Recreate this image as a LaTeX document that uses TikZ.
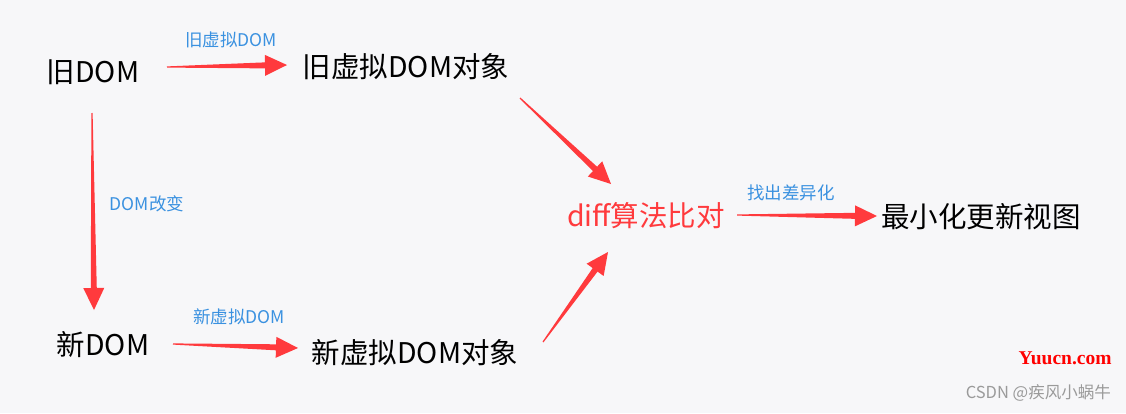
\documentclass[tikz,border=0pt]{standalone}
\usepackage{fontspec}
\setmainfont{Noto Sans CJK SC}
\newfontfamily\wmserif{Liberation Serif}
\usepackage{tikz}
\usetikzlibrary{calc}

\definecolor{bgpaper}{HTML}{F7F7F9}
\definecolor{arrowred}{HTML}{FF3A3D}
\definecolor{labelblue}{HTML}{3A91E0}
\definecolor{wmgray}{HTML}{9A9A9A}

\tikzset{
  bigtext/.style={inner sep=0pt, font=\fontsize{28.5}{33}\selectfont},
  steplabel/.style={inner sep=0pt, text=labelblue, font=\fontsize{17.5}{20}\selectfont},
}

% tapered red arrow: #1 tail, #2 tip
\newcommand{\redarrow}[2]{%
  \coordinate (ra-t) at (#1);
  \coordinate (ra-h) at (#2);
  \fill[arrowred] ($(ra-t)!0.6pt!90:(ra-h)$)
    -- ($(ra-h)!22pt!(ra-t)!3pt!-90:(ra-t)$)
    -- ($(ra-h)!22pt!(ra-t)!10.5pt!-90:(ra-t)$)
    -- (ra-h)
    -- ($(ra-h)!22pt!(ra-t)!10.5pt!90:(ra-t)$)
    -- ($(ra-h)!22pt!(ra-t)!3pt!90:(ra-t)$)
    -- ($(ra-t)!0.6pt!-90:(ra-h)$) -- cycle;
}

\begin{document}
\begin{tikzpicture}[x=1pt, y=-1pt]
  \fill[bgpaper] (0,0) rectangle (1126,413);

  \node[bigtext] (olddom) at (93,72) {旧DOM};
  \node[bigtext] (oldvdom) at (406,67) {旧虚拟DOM对象};
  \node[bigtext] (newdom) at (103,345) {新DOM};
  \node[bigtext] (newvdom) at (415,353) {新虚拟DOM对象};
  \node[bigtext, text=arrowred] (diff) at (646,216) {diff算法比对};
  \node[bigtext] (patch) at (981,217) {最小化更新视图};

  \node[steplabel] (lbold) at (231,40) {旧虚拟DOM};
  \node[steplabel] (lbchange) at (147,204) {DOM改变};
  \node[steplabel] (lbnew) at (239,317) {新虚拟DOM};
  \node[steplabel] (lbdiff) at (791,193) {找出差异化};

  \redarrow{$(olddom)+(74,-5)$}{$(oldvdom)+(-119,-2)$} % old -> old vdom
  \redarrow{$(olddom)+(-1,41)$}{$(newdom)+(-9,-35)$} % old -> new
  \redarrow{$(newdom)+(70,-1)$}{$(newvdom)+(-117,-5)$} % new -> new vdom
  \redarrow{$(oldvdom)+(114,31)$}{$(diff)+(-35,-32)$} % old vdom -> diff
  \redarrow{$(newvdom)+(128,-11)$}{$(diff)+(-38,36)$} % new vdom -> diff
  \redarrow{$(diff)+(91,-1)$}{$(patch)+(-104,-1)$} % diff -> patch

  \node[inner sep=0pt, text=red, font=\wmserif\bfseries\fontsize{19.5}{22}\selectfont] (wmsite) at (1065,358) {Yuucn.com};
  \node[inner sep=0pt, text=wmgray, font=\fontsize{16.5}{19}\selectfont, anchor=east] (wmcsdn) at (1111,393) {CSDN @疾风小蜗牛};
\end{tikzpicture}
\end{document}
